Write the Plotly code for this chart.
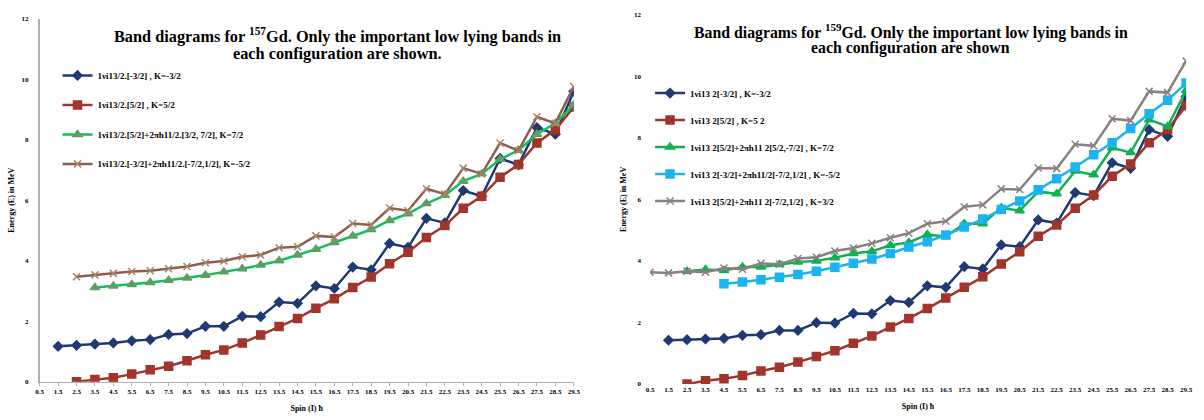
import plotly.graph_objects as go

spins = [0.5, 1.5, 2.5, 3.5, 4.5, 5.5, 6.5, 7.5, 8.5, 9.5, 10.5, 11.5, 12.5, 13.5, 14.5,
         15.5, 16.5, 17.5, 18.5, 19.5, 20.5, 21.5, 22.5, 23.5, 24.5, 25.5, 26.5, 27.5, 28.5, 29.5]
tick_labels = ["0.5", "1.5", "2.5", "3.5", "4.5", "5.5", "6.5", "7.5", "8.5", "9.5", "10.5",
               "11.5", "12.5", "13.5", "14.5", "15.5", "16.5", "17.5", "18.5", "19.5", "20.5",
               "21.5", "22.5", "23.5", "24.5", "25.5", "26.5", "27.5", "28.5", "29.5"]
N = None

# ---- 157Gd (left) ----
gd157_band1 = [N, 1.17, 1.20, 1.24, 1.28, 1.35, 1.39, 1.56, 1.59, 1.83, 1.83, 2.16, 2.15, 2.63, 2.59,
               3.17, 3.08, 3.79, 3.70, 4.57, 4.44, 5.40, 5.25, 6.32, 6.13, 7.38, 7.17, 8.40, 8.18, 9.60]
gd157_band2 = [N, N, 0.00, 0.07, 0.13, 0.25, 0.39, 0.51, 0.69, 0.89, 1.05, 1.28, 1.54, 1.82, 2.09,
               2.43, 2.74, 3.11, 3.46, 3.90, 4.28, 4.77, 5.16, 5.73, 6.13, 6.76, 7.18, 7.89, 8.33, 9.08]
gd157_band3 = [N, N, N, 3.11, 3.16, 3.21, 3.28, 3.35, 3.43, 3.52, 3.63, 3.73, 3.86, 4.00, 4.19,
               4.38, 4.60, 4.82, 5.03, 5.33, 5.55, 5.89, 6.16, 6.63, 6.87, 7.35, 7.65, 8.18, 8.54, 9.16]
gd157_band4 = [N, N, 3.47, 3.53, 3.58, 3.64, 3.67, 3.73, 3.81, 3.93, 3.99, 4.13, 4.19, 4.43, 4.46,
               4.82, 4.78, 5.23, 5.18, 5.74, 5.65, 6.38, 6.20, 7.06, 6.87, 7.89, 7.64, 8.76, 8.54, 9.76]
gd157_names = ["1νi13/2.[-3/2] , K=-3/2",
               "1νi13/2.[5/2] , K=5/2",
               "1νi13/2.[5/2]+2πh11/2.[3/2, 7/2], K=7/2",
               "1νi13/2.[-3/2]+2πh11/2.[-7/2,1/2], K=-5/2"]

# ---- 159Gd (right) ----
gd159_band1 = [N, 1.42, 1.44, 1.46, 1.48, 1.58, 1.60, 1.74, 1.74, 1.99, 1.98, 2.29, 2.28, 2.71, 2.65,
               3.19, 3.14, 3.81, 3.74, 4.52, 4.46, 5.33, 5.23, 6.22, 6.12, 7.19, 7.01, 8.27, 8.05, 9.35]
gd159_band2 = [N, N, 0.00, 0.10, 0.17, 0.27, 0.42, 0.54, 0.71, 0.89, 1.08, 1.32, 1.56, 1.85, 2.13,
               2.45, 2.79, 3.14, 3.48, 3.90, 4.30, 4.80, 5.17, 5.71, 6.14, 6.75, 7.15, 7.84, 8.27, 9.04]
gd159_band3 = [N, N, 3.66, 3.72, 3.69, 3.80, 3.80, 3.88, 3.96, 4.00, 4.10, 4.24, 4.31, 4.51, 4.60,
               4.86, 4.79, 5.21, 5.21, 5.73, 5.63, 6.25, 6.18, 6.92, 6.80, 7.68, 7.52, 8.59, 8.37, 9.54]
gd159_band4 = [N, N, N, N, 3.26, 3.31, 3.39, 3.47, 3.56, 3.66, 3.79, 3.92, 4.06, 4.24, 4.45,
               4.62, 4.84, 5.10, 5.36, 5.67, 5.95, 6.31, 6.67, 7.05, 7.45, 7.84, 8.30, 8.78, 9.22, 9.78]
gd159_band5 = [3.63, 3.61, 3.66, 3.63, 3.77, 3.73, 3.92, 3.89, 4.08, 4.12, 4.32, 4.42, 4.57, 4.75, 4.90,
               5.21, 5.29, 5.76, 5.82, 6.34, 6.32, 7.02, 7.00, 7.79, 7.74, 8.62, 8.56, 9.51, 9.47, 10.50]
gd159_names = ["1νi13 2[-3/2] , K=-3/2",
               "1νi13 2[5/2] , K=5 2",
               "1νi13 2[5/2]+2πh11 2[5/2,-7/2] , K=7/2",
               "1νi13 2[-3/2]+2πh11/2[-7/2,1/2] , K=-5/2",
               "1νi13 2[5/2]+2πh11 2[-7/2,1/2] , K=3/2"]

title_left = ["Band diagrams for <sup>157</sup>Gd. Only the important low lying bands in",
              "each configuration are shown."]
title_right = ["Band diagrams for <sup>159</sup>Gd. Only the important low lying bands in",
               "each configuration are shown"]

SERIF = "Liberation Serif"

fig = go.Figure()

left_styles = [
    dict(line="#1F3A73", marker="#1F3A73", symbol="diamond", size=7),
    dict(line="#A2352B", marker="#A2352B", symbol="square", size=8),
    dict(line="#12C05A", marker="#5E9E62", symbol="triangle-up", size=8),
    dict(line="#8E5E4E", marker="#A88468", symbol="x-thin", size=7),
]
for i, (vals, name, st) in enumerate(zip([gd157_band1, gd157_band2, gd157_band3, gd157_band4],
                                         gd157_names, left_styles)):
    fig.add_trace(go.Scatter(
        x=spins, y=vals, name=name, mode="lines+markers", xaxis="x", yaxis="y",
        legend="legend", legendgroup="L%d" % i,
        line=dict(color=st["line"], width=2.5),
        marker=dict(symbol=st["symbol"], size=st["size"], color=st["marker"],
                    line=dict(color=st["marker"], width=1.5)),
        connectgaps=False))

right_styles = [
    dict(line="#1F3A73", marker="#1F3A73", symbol="diamond", size=7),
    dict(line="#A2352B", marker="#A2352B", symbol="square", size=8),
    dict(line="#12B050", marker="#12B050", symbol="triangle-up", size=8),
    dict(line="#1CB4F0", marker="#1CB4F0", symbol="square", size=8),
    dict(line="#8A8080", marker="#8A8080", symbol="x-thin", size=7),
]
for i, (vals, name, st) in enumerate(zip([gd159_band1, gd159_band2, gd159_band3, gd159_band4, gd159_band5],
                                         gd159_names, right_styles)):
    fig.add_trace(go.Scatter(
        x=spins, y=vals, name=name, mode="lines+markers", xaxis="x2", yaxis="y2",
        legend="legend2", legendgroup="R%d" % i,
        line=dict(color=st["line"], width=2.5),
        marker=dict(symbol=st["symbol"], size=st["size"], color=st["marker"],
                    line=dict(color=st["marker"], width=1.5)),
        connectgaps=False))

tickfont = dict(family=SERIF, size=7, color="#000000", weight="bold")
titlefont = dict(family=SERIF, size=8, color="#000000", weight="bold")

W, H = 1204, 420
annotations = []
for txt, yc in zip(title_left, [32, 50]):
    annotations.append(dict(text=txt, x=337 / W, y=(H - yc) / H, xref="paper", yref="paper",
                            xanchor="center", yanchor="middle", showarrow=False,
                            font=dict(family=SERIF, size=16.3, color="#000000", weight="bold")))
for txt, yc in zip(title_right, [28, 45]):
    annotations.append(dict(text=txt, x=915 / W, y=(H - yc) / H, xref="paper", yref="paper",
                            xanchor="center", yanchor="middle", showarrow=False,
                            font=dict(family=SERIF, size=15.8, color="#000000", weight="bold")))

fig.update_layout(
    width=W, height=H,
    margin=dict(l=0, r=0, t=0, b=0),
    paper_bgcolor="white", plot_bgcolor="white",
    showlegend=True,
    xaxis=dict(domain=[36 / W, 575 / W], range=[0.5, 29.5], tickmode="array",
               tickvals=spins, ticktext=tick_labels, tickangle=0,
               showgrid=False, zeroline=False, showline=True, linecolor="#B0B0B0", linewidth=1,
               ticks="outside", ticklen=3, tickcolor="#B0B0B0", tickfont=tickfont,
               title=dict(text="Spin (I) ħ", font=titlefont, standoff=10), anchor="y"),
    yaxis=dict(domain=[(H - 385) / H, (H - 15) / H], range=[0, 12], tickvals=[0, 2, 4, 6, 8, 10, 12],
               showgrid=False, zeroline=False, showline=True, linecolor="#B0B0B0", linewidth=1.5,
               ticks="", tickfont=tickfont, ticklabelstandoff=8,
               title=dict(text="Energy (E) in MeV", font=titlefont, standoff=6), anchor="x"),
    xaxis2=dict(domain=[652 / W, 1193 / W], range=[0.5, 29.5], tickmode="array",
                tickvals=spins, ticktext=tick_labels, tickangle=0,
                showgrid=False, zeroline=False, showline=False,
                ticks="", tickfont=tickfont,
                title=dict(text="Spin (I) ħ", font=titlefont, standoff=10), anchor="y2"),
    yaxis2=dict(domain=[(H - 387.3) / H, (H - 11) / H], range=[0, 12], tickvals=[0, 2, 4, 6, 8, 10, 12],
                showgrid=False, zeroline=False, showline=False,
                ticks="", tickfont=tickfont, ticklabelstandoff=8,
                title=dict(text="Energy (E) in MeV", font=titlefont, standoff=6), anchor="x2"),
    legend=dict(x=54 / W, y=(H - 58) / H, xanchor="left", yanchor="top",
                font=dict(family=SERIF, size=9, color="#000000", weight="bold"),
                bgcolor="rgba(0,0,0,0)", tracegroupgap=10.5, traceorder="grouped",
                itemwidth=30),
    legend2=dict(x=652 / W, y=(H - 76) / H, xanchor="left", yanchor="top",
                 font=dict(family=SERIF, size=9, color="#000000", weight="bold"),
                 bgcolor="rgba(0,0,0,0)", tracegroupgap=8, traceorder="grouped",
                 itemwidth=30),
    annotations=annotations,
)

fig.write_html("out.html")
